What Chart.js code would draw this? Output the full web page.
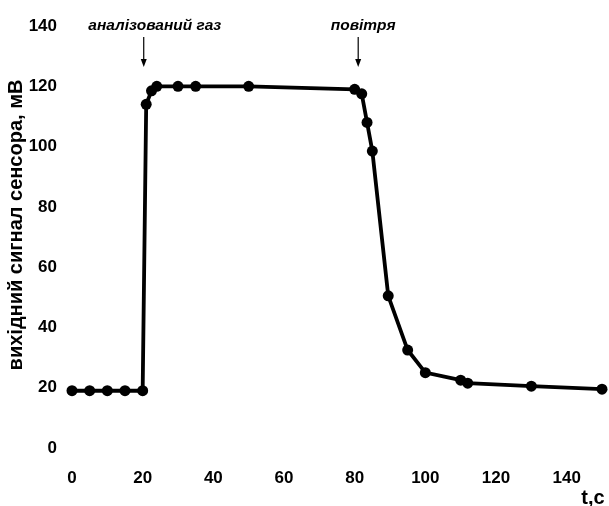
<!DOCTYPE html>
<html>
<head>
<meta charset="utf-8">
<script src="https://cdn.jsdelivr.net/npm/chart.js@4.4.1/dist/chart.umd.min.js"></script>
<style>
  html, body { margin: 0; padding: 0; background: #fff; }
  #wrap { width: 609px; height: 506px; position: relative; }
</style>
</head>
<body>
<div id="wrap"><canvas id="sensorChart"></canvas></div>
<script>
// sensor response: time (s) vs output signal (mV)
const TIME_S = [0, 5, 10, 15, 20, 21, 22.5, 24, 30, 35, 50, 80, 82, 83.5, 85, 89.5, 95, 100, 110, 112, 130, 150];
const SIGNAL_MV = [19, 19, 19, 19, 19, 114, 118.5, 120, 120, 120, 120, 119, 117.5, 108, 98.5, 50.5, 32.5, 25, 22.5, 21.5, 20.5, 19.5];
const X_TICKS = [0, 20, 40, 60, 80, 100, 120, 140];
const Y_TICKS = [0, 20, 40, 60, 80, 100, 120, 140];

const Y_TITLE = "вихідний сигнал сенсора, мВ";
const X_TITLE = "t,c";
// arrows: [x value, label]
const MARKERS = [[20.3, "аналізований газ"], [81, "повітря"]];

const SANS = "'Liberation Sans', Arial, sans-serif";

const labelsPlugin = {
  id: "labels",
  afterDraw(chart) {
    const ctx = chart.ctx;
    const xs = chart.scales.x;
    ctx.save();
    ctx.fillStyle = "#000";
    ctx.strokeStyle = "#000";

    // y title
    ctx.save();
    ctx.translate(16, 225);
    ctx.rotate(-Math.PI / 2);
    ctx.font = "bold 20px " + SANS;
    ctx.textAlign = "center";
    ctx.textBaseline = "middle";
    ctx.fillText(Y_TITLE, 0, 0);
    ctx.restore();

    // x title
    ctx.font = "bold 20px " + SANS;
    ctx.textAlign = "center";
    ctx.textBaseline = "middle";
    ctx.fillText(X_TITLE, 593, 498);

    // arrows + labels
    MARKERS.forEach(([xv, text]) => {
      const px = xs.getPixelForValue(xv);
      ctx.font = "italic bold 15.5px " + SANS;
      ctx.textAlign = "center";
      ctx.textBaseline = "middle";
      const labelX = text === "повітря" ? px + 5 : px + 11;
      ctx.fillText(text, labelX, 26);
      ctx.lineWidth = 1.2;
      ctx.beginPath();
      ctx.moveTo(px, 37);
      ctx.lineTo(px, 60);
      ctx.stroke();
      ctx.beginPath();
      ctx.moveTo(px - 3, 59);
      ctx.lineTo(px + 3, 59);
      ctx.lineTo(px, 67);
      ctx.closePath();
      ctx.fill();
    });
    ctx.restore();
  }
};

new Chart(document.getElementById("sensorChart"), {
  type: "scatter",
  data: {
    datasets: [{
      data: TIME_S.map((t, i) => ({ x: t, y: SIGNAL_MV[i] })),
      showLine: true,
      borderColor: "#000",
      backgroundColor: "#000",
      borderWidth: 3.8,
      pointRadius: 5.5,
      pointHoverRadius: 5.5,
      pointBorderWidth: 0,
      tension: 0,
      clip: false
    }]
  },
  options: {
    responsive: true,
    maintainAspectRatio: false,
    animation: false,
    layout: { padding: { left: 0, right: 7, top: 26, bottom: 0 } },
    plugins: { legend: { display: false }, tooltip: { enabled: false } },
    scales: {
      x: {
        type: "linear",
        min: 0,
        max: 150,
        grid: { display: false, drawTicks: false },
        border: { display: false },
        afterBuildTicks: s => { s.ticks = X_TICKS.map(v => ({ value: v })); },
        afterFit: s => { s.height = 58; },
        ticks: {
          color: "#000",
          padding: 20,
          maxRotation: 0,
          autoSkip: false,
          font: { family: SANS, size: 17, weight: "bold" }
        }
      },
      y: {
        min: 0,
        max: 140,
        grid: { display: false, drawTicks: false },
        border: { display: false },
        afterBuildTicks: s => { s.ticks = Y_TICKS.map(v => ({ value: v })); },
        afterFit: s => { s.width = 72; },
        ticks: {
          color: "#000",
          padding: 15,
          font: { family: SANS, size: 17, weight: "bold" }
        }
      }
    }
  },
  plugins: [labelsPlugin]
});
</script>
</body>
</html>
